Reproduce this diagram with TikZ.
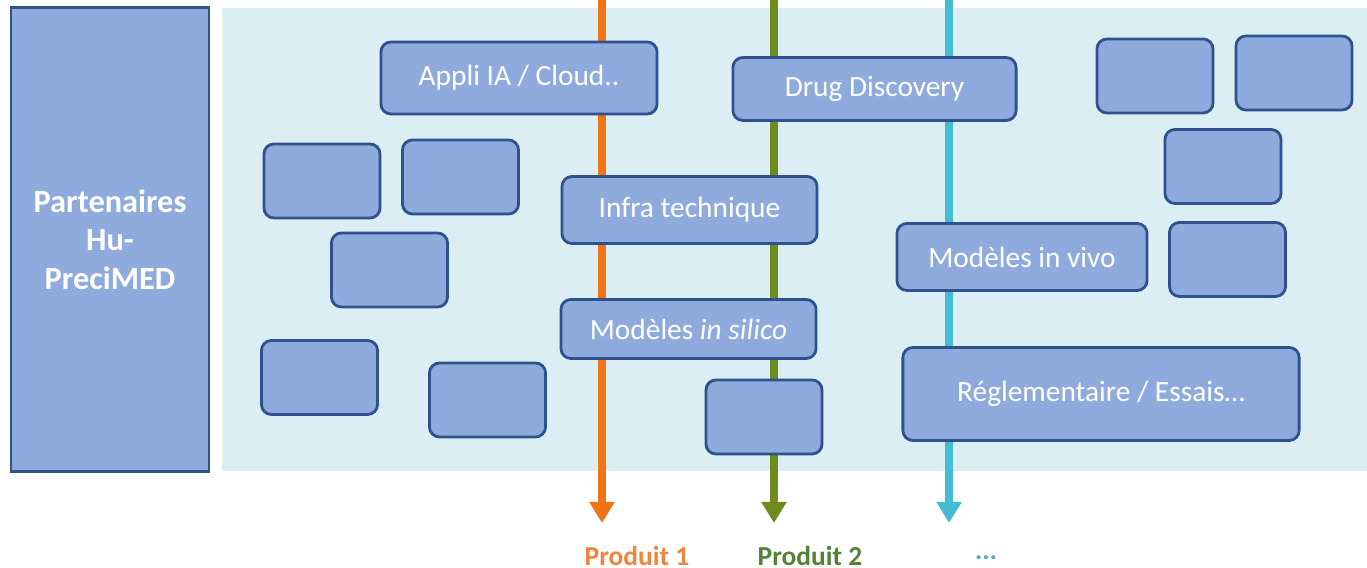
\documentclass[tikz,border=0pt]{standalone}
\usepackage{fontspec}
\setmainfont{Carlito}
\usetikzlibrary{arrows.meta}

\definecolor{boxfill}{HTML}{8FAADC}
\definecolor{boxline}{HTML}{2F528F}
\definecolor{zone}{HTML}{DAEEF3}
\definecolor{orangeline}{HTML}{F07414}
\definecolor{greenline}{HTML}{6E8C1E}
\definecolor{cyanline}{HTML}{43BCD4}
\definecolor{orangetext}{HTML}{F0843C}
\definecolor{greentext}{HTML}{548235}
\definecolor{cyantext}{HTML}{4BACC6}

\tikzset{
	partbox/.style = {draw = boxline, fill = boxfill, line width = 0.8pt, rounded corners = 0.1cm,
		text = white, font = \fontsize{8.35}{10}\selectfont, inner sep = 0pt},
	flow/.style = {line width = 2pt, -{Triangle[width = 0.24cm, length = 0.21cm]}},
	prodlabel/.style = {font = \bfseries\fontsize{7.8}{9}\selectfont}
}

\begin{document}
\begin{tikzpicture}[x = 0.01cm, y = -0.01cm]
\useasboundingbox (0, 0) rectangle (1367, 568);
\fill[zone] (222, 8) rectangle (1367, 471);
\node[draw = boxline, fill = boxfill, line width = 0.8pt, minimum width = 1.98cm, minimum height = 4.63cm,
	text = white, align = center, font = \bfseries\fontsize{9.2}{10.9}\selectfont] (partners) at (110, 239.5)
	{Partenaires\\Hu-\\PreciMED};

\coordinate (top1) at (602, 0);
\coordinate (top2) at (774, 0);
\coordinate (top3) at (949, 0);
\coordinate (end1) at (602, 523);
\coordinate (end2) at (774, 523);
\coordinate (end3) at (949, 523);
\draw[flow, orangeline] (top1) -- (end1);
\draw[flow, greenline] (top2) -- (end2);
\draw[flow, cyanline] (top3) -- (end3);

\node[prodlabel, orangetext] (prod1) at (637, 556) {Produit 1};
\node[prodlabel, greentext] (prod2) at (810, 556) {Produit 2};
\node[prodlabel, cyantext] (prod3) at (986, 558) {...};

\node[partbox, minimum width = 2.76cm, minimum height = 0.72cm] (appli) at (519, 78) {Appli IA / Cloud..};
\node[partbox, minimum width = 2.83cm, minimum height = 0.63cm] (drug) at (874.5, 89) {Drug Discovery};
\node[partbox, minimum width = 2.55cm, minimum height = 0.67cm] (infra) at (689.5, 210) {Infra technique};
\node[partbox, minimum width = 2.55cm, minimum height = 0.59cm] (silico) at (688.5, 329) {Modèles \textit{in silico}};
\node[partbox, minimum width = 2.50cm, minimum height = 0.67cm] (vivo) at (1022, 257) {Modèles in vivo};
\node[partbox, minimum width = 3.96cm, minimum height = 0.93cm] (regl) at (1101, 394) {Réglementaire / Essais…};

\foreach \name/\cx/\cy in {e1/322/181, e2/460.5/177, e3/389.5/270, e4/319.5/377.5, e5/487.5/400,
	e6/764/417, e7/1155/76, e8/1294/73, e9/1223/166.5, e10/1227.5/259.5}
	\node[partbox, minimum width = 1.16cm, minimum height = 0.74cm] (\name) at (\cx, \cy) {};
\end{tikzpicture}
\end{document}
